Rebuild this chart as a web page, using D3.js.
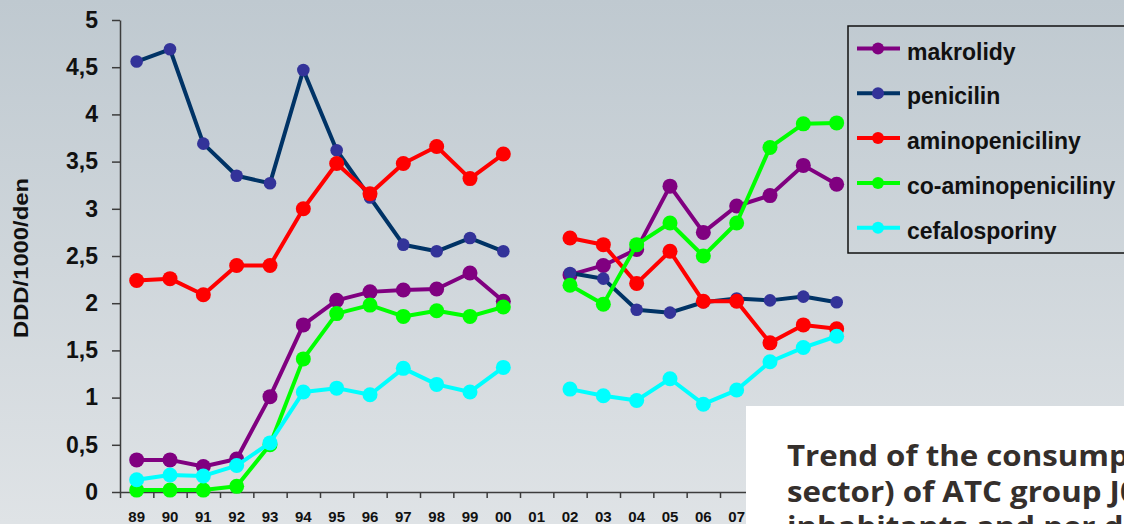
<!DOCTYPE html>
<html>
<head>
<meta charset="utf-8">
<title>ATB trend</title>
<script src="https://d3js.org/d3.v7.min.js"></script>
<style>
body { margin:0; background:#fff; }
svg { display:block; font-family:"Liberation Sans",Arial,sans-serif; }
.ax path, .ax line { stroke:#3c3c3c; stroke-width:1.5; }
.ax text { font-weight:bold; fill:#111; }
</style>
</head>
<body>
<script>
// roky, 01 chybi
const cats = ['89','90','91','92','93','94','95','96','97','98','99','00','01','02','03','04','05','06','07','08','09','10'];
const yTicks = [0,0.5,1,1.5,2,2.5,3,3.5,4,4.5,5];

const makrolidy       = [0.34,0.34,0.27,0.35,1.01,1.77,2.03,2.12,2.14,2.15,2.32,2.02,null,2.30,2.40,2.57,3.24,2.75,3.03,3.14,3.46,3.26];
const penicilin       = [4.56,4.69,3.69,3.35,3.27,4.47,3.62,3.12,2.62,2.55,2.69,2.55,null,2.32,2.26,1.93,1.90,2.01,2.05,2.03,2.07,2.01];
const aminopeniciliny = [2.24,2.26,2.09,2.40,2.40,3.00,3.48,3.16,3.48,3.66,3.32,3.58,null,2.69,2.62,2.21,2.55,2.02,2.02,1.58,1.77,1.73];
const coAminopen      = [0.02,0.02,0.02,0.06,0.50,1.41,1.89,1.98,1.86,1.92,1.86,1.96,null,2.19,1.99,2.62,2.85,2.50,2.85,3.65,3.90,3.91];
const cefalosporiny   = [0.13,0.18,0.17,0.28,0.52,1.06,1.10,1.03,1.31,1.14,1.06,1.32,null,1.09,1.02,0.97,1.20,0.93,1.08,1.38,1.53,1.65];

const names   = ['makrolidy','penicilin','aminopeniciliny','co-aminopeniciliny','cefalosporiny'];
const values  = [makrolidy, penicilin, aminopeniciliny, coAminopen, cefalosporiny];
const lineCol = ['#800080','#003366','#ff0000','#00ff00','#00ffff'];
const dotCol  = ['#800080','#333399','#ff0000','#00ff00','#00ffff'];
const dotR    = [7.5, 6.3, 7.5, 7.5, 7.5];

const W = 1124, H = 524;
const svg = d3.select('body').append('svg').attr('width', W).attr('height', H);

const grad = svg.append('defs').append('linearGradient').attr('id','bg')
  .attr('x1',0).attr('y1',0).attr('x2',0).attr('y2',1);
grad.append('stop').attr('offset','0%').attr('stop-color','#bfc9d0');
grad.append('stop').attr('offset','100%').attr('stop-color','#dfe3e6');
svg.append('rect').attr('width', W).attr('height', H).attr('fill','url(#bg)');

const x = d3.scaleBand().domain(cats).range([120, 120 + cats.length * 100 / 3]);
const xb = d3.scaleLinear().domain([0, cats.length]).range(x.range());
const y = d3.scaleLinear().domain([0, 5]).range([492, 20]);
const cx = (i) => x(cats[i]) + x.bandwidth() / 2;

// osa y
svg.append('g').attr('class','ax').attr('transform','translate(120,0)')
  .call(d3.axisLeft(y).tickValues(yTicks).tickSize(8).tickSizeOuter(0).tickPadding(14)
    .tickFormat(d => String(d).replace('.', ',')))
  .selectAll('text').style('font-size','23px');

// osa x: carky na hranicich, popisky uprostred
svg.append('g').attr('class','ax').attr('transform','translate(0,492)')
  .call(d3.axisBottom(xb).tickValues(d3.range(cats.length + 1)).tickSize(6).tickSizeOuter(0).tickFormat(''));
svg.append('g').attr('class','ax').attr('transform','translate(0,492)')
  .call(d3.axisBottom(x).tickSize(0).tickPadding(19))
  .call(g => g.select('.domain').remove())
  .selectAll('text').style('font-size','15px');

svg.append('text').attr('transform','translate(28,258) rotate(-90)')
  .attr('text-anchor','middle').attr('textLength',160).attr('lengthAdjust','spacingAndGlyphs')
  .style('font-size','20px').style('font-weight','bold').attr('fill','#111')
  .text('DDD/1000/den');

// serie
const line = d3.line().defined(d => d != null).x((d, i) => cx(i)).y(d => y(d));
values.forEach((vals, s) => {
  const g = svg.append('g');
  g.append('path').datum(vals).attr('d', line)
    .attr('fill','none').attr('stroke', lineCol[s]).attr('stroke-width', 4).attr('stroke-linejoin','round');
  g.selectAll('circle').data(vals.map((v, i) => [v, i]).filter(d => d[0] != null))
    .enter().append('circle')
    .attr('cx', d => cx(d[1])).attr('cy', d => y(d[0])).attr('r', dotR[s]).attr('fill', dotCol[s]);
});

// legenda
const lg = svg.append('g');
lg.append('rect').attr('x',848).attr('y',26).attr('width',300).attr('height',227)
  .attr('fill','none').attr('stroke','#111').attr('stroke-width',1.5);
const row = lg.selectAll('g.it').data(names).enter().append('g')
  .attr('transform', (d, i) => `translate(0,${48.5 + i * 44.8})`);
row.append('line').attr('x1',857).attr('x2',900).attr('stroke', (d, i) => lineCol[i]).attr('stroke-width',4);
row.append('circle').attr('cx',878).attr('r',6).attr('fill', (d, i) => dotCol[i]);
row.append('text').attr('x',907).attr('y',11).style('font-size','23px').style('font-weight','bold')
  .attr('fill','#111').text(d => d);

// bily vyrez s textem
const note = ['Trend of the consumption (in the outpatient',
              'sector) of ATC group J01 in DDD per 1000',
              'inhabitants and per day'];
svg.append('rect').attr('x',746).attr('y',406).attr('width',400).attr('height',130).attr('fill','#fff');
const nt = svg.append('g').style('font-family','"Open Sans",sans-serif').style('font-weight','bold').style('font-size','29px');
const probe = nt.append('text').text('Trend of the consump');
const sx = 342 / probe.node().getComputedTextLength();
probe.remove();
nt.selectAll('text').data(note).enter().append('text')
  .attr('transform', (d, i) => `translate(787,${466 + i * 35.5}) scale(${sx},1)`)
  .attr('fill','#352f2c').text(d => d);
</script>
</body>
</html>
